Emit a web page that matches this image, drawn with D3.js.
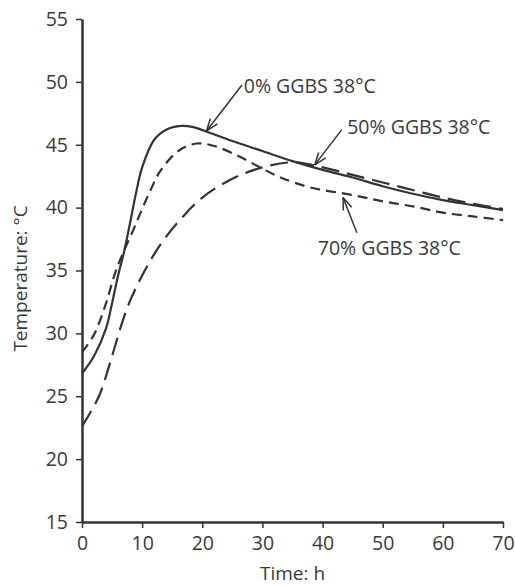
<!DOCTYPE html>
<html>
<head>
<meta charset="utf-8">
<script src="https://cdn.jsdelivr.net/npm/d3@7"></script>
<style>
  body { margin: 0; background: #fff; }
  svg text { font-family: "Open Sans", sans-serif; fill: #3a3a3a; }
</style>
</head>
<body>
<svg id="chart"></svg>
<script>
// temperature curves (time in h, temperature in °C)
const ggbs0 = [[0,26.8],[2,28.2],[4,30.4],[5,32.4],[6,34.6],[7,36.5],[8,38.8],[9,41.2],[10,43.2],[12,45.4],[14,46.2],[16.5,46.5],[18.5,46.4],[21,46.0],[25,45.3],[30,44.5],[35,43.7],[40,43.0],[45,42.4],[50,41.7],[55,41.1],[60,40.6],[65,40.2],[70,39.8]];
const ggbs50 = [[0,22.6],[1.5,23.8],[3,25.2],[5,28.2],[6.5,30.6],[8,32.6],[10,34.6],[12,36.3],[14,37.7],[17,39.4],[20,40.8],[25,42.3],[30,43.2],[35,43.6],[40,43.2],[45,42.6],[50,42.0],[55,41.4],[60,40.8],[65,40.3],[70,39.9]];
const ggbs70 = [[0,28.5],[2,29.9],[4,32.4],[5.5,34.8],[7,36.6],[8.5,38.2],[10,39.9],[11.5,41.5],[13,42.9],[16,44.5],[19,45.1],[22,44.9],[26,44.1],[30,43.1],[33,42.4],[38,41.6],[45,41.0],[50,40.5],[55,40.1],[60,39.6],[65,39.3],[70,39.0]];

const xTicks = [0, 10, 20, 30, 40, 50, 60, 70];
const yTicks = [15, 20, 25, 30, 35, 40, 45, 50, 55];

// labels: [text, text x, text y, arrow start x, arrow start y, tip x, tip y] in data units
const labels = [
    ['0% GGBS 38°C', 26.9, 49.1, 26.6, 49.75, 20.7, 46.1],
    ['50% GGBS 38°C', 44.1, 45.85, 43.2, 46.2, 38.7, 43.4],
    ['70% GGBS 38°C', 39.2, 36.2, 45.7, 38.0, 43.4, 40.8]
];

const width = 515;
const height = 586;
const margin = {left: 82, top: 19, right: 12, bottom: 64};

const svg = d3.select('#chart').attr('width', width).attr('height', height);

const x = d3.scaleLinear().domain([0, 70]).range([margin.left, width - margin.right]);
const y = d3.scaleLinear().domain([15, 55]).range([height - margin.bottom, margin.top]);

const ink = '#333';

// axes
const xAxis = svg.append('g')
    .attr('transform', `translate(0,${y(15)})`)
    .call(d3.axisBottom(x).tickValues(xTicks).tickSize(6).tickSizeOuter(0).tickPadding(8));
const yAxis = svg.append('g')
    .attr('transform', `translate(${x(0)},0)`)
    .call(d3.axisLeft(y).tickValues(yTicks).tickSize(6).tickSizeOuter(0).tickPadding(8));

[xAxis, yAxis].forEach(function (g) {
    g.select('.domain').attr('stroke', ink).attr('stroke-width', 2.5);
    g.selectAll('.tick line').attr('stroke', ink).attr('stroke-width', 1.5);
    g.selectAll('.tick text').attr('font-size', 19.5).attr('fill', '#3a3a3a')
        .style('font-family', '"Open Sans", sans-serif');
});

// axis titles
svg.append('text')
    .attr('x', (x(0) + x(70)) / 2)
    .attr('y', 580)
    .attr('text-anchor', 'middle')
    .attr('font-size', 19)
    .text('Time: h');

svg.append('text')
    .attr('transform', `translate(27,${(y(15) + y(55)) / 2 + 8}) rotate(-90)`)
    .attr('text-anchor', 'middle')
    .attr('font-size', 19)
    .text('Temperature: °C');

// curves
const line = d3.line()
    .x(d => x(d[0]))
    .y(d => y(d[1]))
    .curve(d3.curveCatmullRom);

const series = [
    {data: ggbs0, dash: null},
    {data: ggbs50, dash: '18,8'},
    {data: ggbs70, dash: '10,6'}
];

svg.append('g')
    .selectAll('path')
    .data(series)
    .enter()
    .append('path')
    .attr('d', d => line(d.data))
    .attr('fill', 'none')
    .attr('stroke', ink)
    .attr('stroke-width', 2.2)
    .attr('stroke-dasharray', d => d.dash);

// labels with arrows
const notes = svg.append('g');
labels.forEach(function (l) {
    notes.append('text')
        .attr('x', x(l[1]))
        .attr('y', y(l[2]))
        .attr('font-size', 19.5)
        .text(l[0]);

    const x1 = x(l[3]), y1 = y(l[4]), x2 = x(l[5]), y2 = y(l[6]);
    notes.append('line')
        .attr('x1', x1).attr('y1', y1).attr('x2', x2).attr('y2', y2)
        .attr('stroke', ink).attr('stroke-width', 1.5);

    // open arrow head
    const ang = Math.atan2(y1 - y2, x1 - x2);
    [-0.35, 0.35].forEach(function (a) {
        notes.append('line')
            .attr('x1', x2).attr('y1', y2)
            .attr('x2', x2 + 13 * Math.cos(ang + a))
            .attr('y2', y2 + 13 * Math.sin(ang + a))
            .attr('stroke', ink).attr('stroke-width', 1.5);
    });
});
</script>
</body>
</html>
